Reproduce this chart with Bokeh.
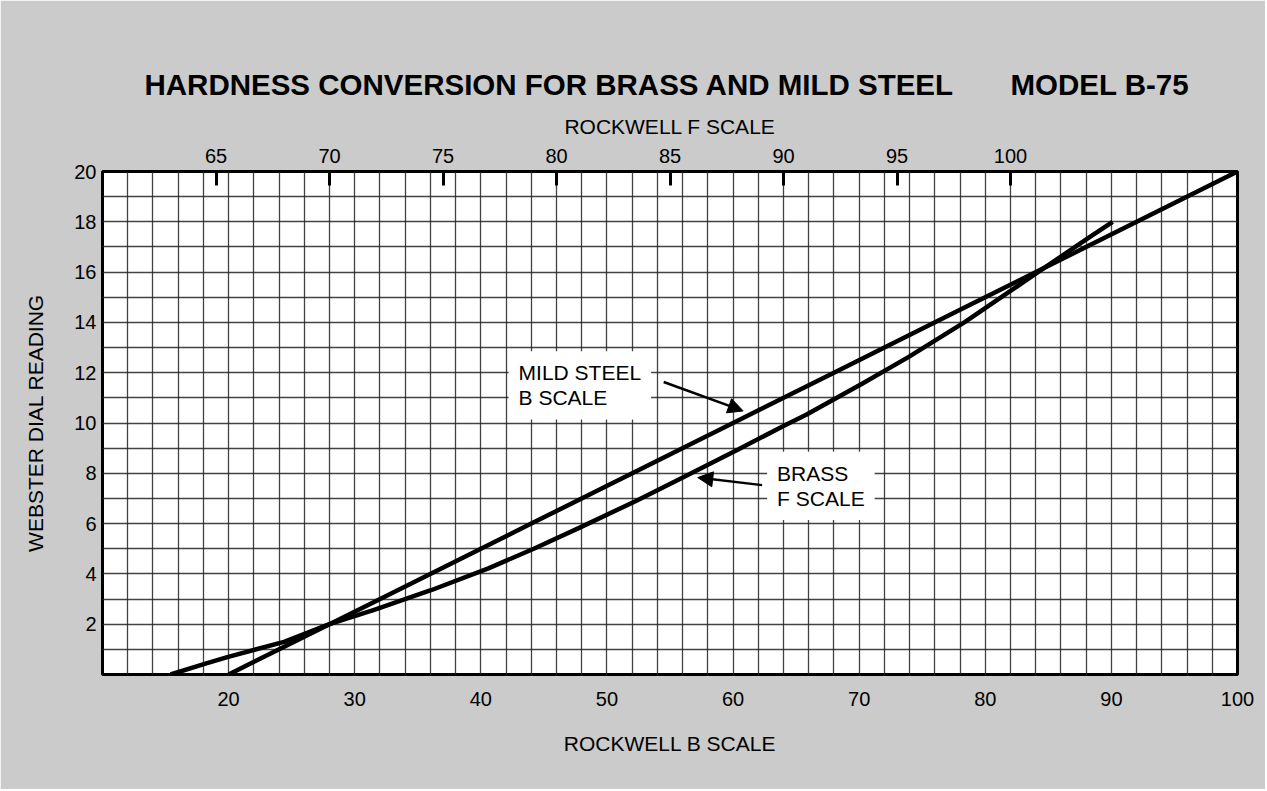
from bokeh.plotting import figure
from bokeh.models import Range1d, LinearAxis, FixedTicker, Label, Arrow, NormalHead, Title
from bokeh.embed import file_html
from bokeh.resources import INLINE

# ---- data ----
# Mild steel, Rockwell B scale (bottom axis)
steel_b = [20, 28, 44, 60, 68, 78, 100]
steel_dial = [0, 2, 6, 10, 12, 14.5, 20]

# Brass, Rockwell F scale (top axis)
brass_f = [63, 64.5, 65.5, 68, 70, 72, 74.5, 77, 79, 81, 83.5, 85.5, 88, 90,
           91, 93.5, 95.5, 98, 100, 101, 103.5, 104.5]
brass_dial = [0.0, 0.42, 0.69, 1.3, 2.0, 2.58, 3.36, 4.22, 5.0, 5.83, 6.9, 7.8,
              8.95, 9.88, 10.33, 11.58, 12.62, 14.02, 15.25, 15.87, 17.4, 18.0]

b_ticks = [20, 30, 40, 50, 60, 70, 80, 90, 100]
f_ticks = [65, 70, 75, 80, 85, 90, 95, 100]
dial_ticks = [2, 4, 6, 8, 10, 12, 14, 16, 18, 20]
b_grid = list(range(10, 101, 2))
dial_grid = list(range(0, 21, 1))

FONT = "Liberation Sans"
PAPER = "#cbcbcb"

p = figure(width=1265, height=789,
           x_range=Range1d(10, 100), y_range=Range1d(0, 20),
           output_backend="svg", toolbar_location=None,
           min_border_left=102, min_border_right=28,
           min_border_top=171, min_border_bottom=115,
           background_fill_color="white", border_fill_color=PAPER,
           outline_line_color="black", outline_line_width=3)
p.extra_x_ranges = {"f": Range1d(60, 110)}

p.title = Title(text="HARDNESS CONVERSION FOR BRASS AND MILD STEEL" + "\u00a0" * 7 + "MODEL B-75",
                align="left", offset=42, text_font=FONT, text_font_size="29.5px",
                text_font_style="bold", text_color="black", standoff=22)

# grid
p.xgrid.ticker = FixedTicker(ticks=b_grid)
p.ygrid.ticker = FixedTicker(ticks=dial_grid)
for g in (p.xgrid, p.ygrid):
    g.grid_line_color = "#222222"
    g.grid_line_width = 1.3
    g.grid_line_alpha = 0.85

# axes
xa = p.xaxis[0]
xa.ticker = FixedTicker(ticks=b_ticks)
xa.axis_label = "ROCKWELL B SCALE"
ya = p.yaxis[0]
ya.ticker = FixedTicker(ticks=dial_ticks)
ya.axis_label = "WEBSTER DIAL READING"

top = LinearAxis(x_range_name="f", ticker=FixedTicker(ticks=f_ticks),
                 axis_label="ROCKWELL F SCALE")
p.add_layout(top, "above")

for ax in (xa, ya, top):
    ax.axis_line_color = None
    ax.major_tick_out = 0
    ax.major_tick_in = 0
    ax.minor_tick_out = 0
    ax.minor_tick_in = 0
    ax.major_label_text_font = FONT
    ax.major_label_text_font_size = "20px"
    ax.major_label_text_color = "black"
    ax.axis_label_text_font = FONT
    ax.axis_label_text_font_size = "21px"
    ax.axis_label_text_font_style = "normal"
    ax.axis_label_text_color = "black"

xa.major_label_standoff = 17
xa.axis_label_standoff = 23
ya.major_label_standoff = 6
ya.axis_label_standoff = 24
top.major_tick_in = 14
top.major_tick_line_width = 3
top.major_tick_line_color = "black"
top.major_label_standoff = 9
top.axis_label_standoff = 8

# curves
p.line(steel_b, steel_dial, line_color="black", line_width=4.5)
p.line(brass_f, brass_dial, x_range_name="f", line_color="black", line_width=4.5,
       line_join="round")

# annotations
p.add_layout(Label(x=42.2, y=11.5, text="MILD STEEL\nB SCALE", text_font=FONT,
                   text_font_size="21px", text_align="left", text_baseline="middle",
                   text_line_height=1.1,
                   text_color="black", background_fill_color="white", padding=10))
p.add_layout(Label(x=62.7, y=7.5, text="BRASS\nF SCALE", text_font=FONT,
                   text_font_size="21px", text_align="left", text_baseline="middle",
                   text_line_height=1.1,
                   text_color="black", background_fill_color="white", padding=10))
p.add_layout(Arrow(end=NormalHead(size=15, fill_color="black", line_color="black"),
                   x_start=54.5, y_start=11.63, x_end=60.8, y_end=10.48,
                   line_width=2.5, line_color="black"))
p.add_layout(Arrow(end=NormalHead(size=15, fill_color="black", line_color="black"),
                   x_start=62.3, y_start=7.53, x_end=57.2, y_end=7.83,
                   line_width=2.5, line_color="black"))

open("out.html", "w").write(file_html(p, INLINE))
